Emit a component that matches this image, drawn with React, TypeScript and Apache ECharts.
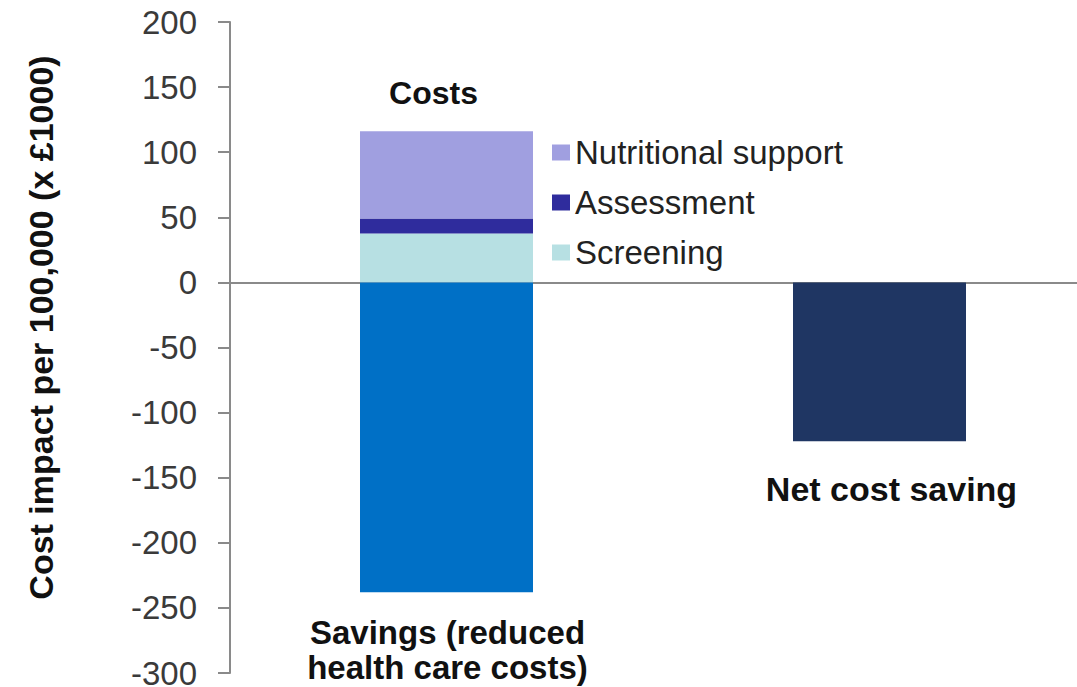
import React, { useEffect, useRef } from "react";
import * as echarts from "echarts";

const categories = ["Savings", "Net cost saving"];
const screening = [37.5, null];
const assessment = [11.5, null];
const nutritional = [67, null];
const savings = [-238, null];
const netSaving = [null, -122];
const legendNames = ["Nutritional support", "Assessment", "Screening"];
const yTicks = { min: -300, max: 200, interval: 50 };

const FONT = "'Liberation Sans', Arial, sans-serif";

export default function App() {
  const ref = useRef<HTMLDivElement>(null);
  useEffect(() => {
    if (!ref.current) return;
    const chart = echarts.init(ref.current, undefined, { renderer: "svg" });
    const barWidth = 173;
    chart.setOption({
      animation: false,
      backgroundColor: "#ffffff",
      textStyle: { fontFamily: FONT },
      grid: {
        left: 230,
        top: 22,
        width: 866,
        height: 651,
        containLabel: false,
        outerBoundsMode: "none",
      },
      legend: {
        data: legendNames,
        orient: "vertical",
        left: 547,
        top: 131,
        itemWidth: 18,
        itemHeight: 16,
        itemGap: 17,
        icon: "rect",
        selectedMode: false,
        textStyle: { fontSize: 33, color: "#222222", fontFamily: FONT },
      },
      xAxis: {
        type: "category",
        data: categories,
        axisLine: { show: true, onZero: true, lineStyle: { color: "#8a8a8a", width: 2 } },
        axisTick: { show: false },
        axisLabel: { show: false },
        splitLine: { show: false },
      },
      yAxis: {
        type: "value",
        min: yTicks.min,
        max: yTicks.max,
        interval: yTicks.interval,
        name: "Cost impact per 100,000 (x £1000)",
        nameLocation: "middle",
        nameGap: 172,
        nameRotate: 90,
        nameTextStyle: {
          fontSize: 34,
          fontWeight: "bold",
          color: "#111111",
          fontFamily: FONT,
          padding: [0, 0, 0, 40],
        },
        axisLine: { show: true, lineStyle: { color: "#8a8a8a", width: 2 } },
        axisTick: { show: true, length: 12, inside: false, lineStyle: { color: "#8a8a8a", width: 2 } },
        axisLabel: { fontSize: 33, color: "#3a3a3a", margin: 33, fontFamily: FONT },
        splitLine: { show: false },
      },
      series: [
        {
          name: "Screening",
          type: "bar",
          stack: "a",
          barWidth,
          data: screening,
          itemStyle: { color: "#B7E0E3" },
        },
        {
          name: "Assessment",
          type: "bar",
          stack: "a",
          barWidth,
          data: assessment,
          itemStyle: { color: "#2F2C9D" },
        },
        {
          name: "Nutritional support",
          type: "bar",
          stack: "a",
          barWidth,
          data: nutritional,
          itemStyle: { color: "#A09FE0" },
          label: {
            show: true,
            position: "top",
            distance: 22,
            offset: [-13, 0],
            formatter: (p: any) => (p.value == null ? "" : "Costs"),
            fontSize: 32,
            fontWeight: "bold",
            color: "#111111",
            fontFamily: FONT,
          },
        },
        {
          name: "Savings",
          type: "bar",
          stack: "a",
          barWidth,
          data: savings,
          itemStyle: { color: "#0070C6" },
          label: {
            show: true,
            position: "bottom",
            distance: 23,
            offset: [1, 0],
            formatter: (p: any) => (p.value == null ? "" : "Savings (reduced\nhealth care costs)"),
            fontSize: 33,
            lineHeight: 35,
            fontWeight: "bold",
            color: "#111111",
            fontFamily: FONT,
            align: "center",
          },
        },
        {
          name: "Net cost saving",
          type: "bar",
          stack: "a",
          barWidth,
          data: netSaving,
          itemStyle: { color: "#1F3663" },
          label: {
            show: true,
            position: "bottom",
            distance: 31,
            offset: [12, 0],
            formatter: (p: any) => (p.value == null ? "" : "Net cost saving"),
            fontSize: 34,
            fontWeight: "bold",
            color: "#111111",
            fontFamily: FONT,
          },
        },
      ],
    });
    return () => chart.dispose();
  }, []);
  return (
    <div
      ref={ref}
      style={{ position: "absolute", left: 0, top: 0, width: 1077, height: 687, background: "#fff" }}
    />
  );
}
